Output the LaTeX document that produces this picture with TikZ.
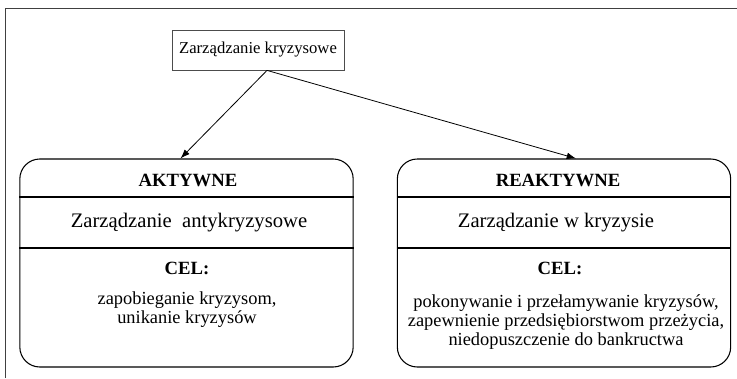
\documentclass[tikz,border=0pt]{standalone}
\usepackage{fontspec}
\setmainfont{Liberation Serif}
\usetikzlibrary{arrows.meta,calc}
\begin{document}
\begin{tikzpicture}[x=0.75pt,y=-0.75pt,
  panel/.style={draw, line width=0.8pt, rounded corners=15pt, minimum width=250pt, minimum height=156pt, inner sep=0pt},
  divider/.style={line width=0.8pt},
  head/.style={font=\fontsize{14}{16}\selectfont\bfseries},
  sub/.style={font=\fontsize{15.5}{18}\selectfont},
  body/.style={font=\fontsize{13.8}{14.3}\selectfont, align=center},
  conn/.style={line width=0.6pt, -{Latex[length=7pt,width=5pt]}},
  frame/.style={line width=0.6pt, draw=black!75}]
\useasboundingbox (0,0) rectangle (737,378);
\draw[frame] (5,378) -- (5,8) -- (737,8);
\node[draw=black!70, line width=0.6pt, minimum width=129pt, minimum height=30pt, inner sep=0pt,
      font=\fontsize{12.5}{14}\selectfont] (top) at (258,50) {Zarządzanie kryzysowe};
\node[panel] (L) at (186.5,263) {};
\node[panel] (R) at (564,263) {};
\coordinate (apex) at ($(top.south)+(9,0)$);
\draw[conn] (apex) -- ($(L.north)+(-6,0)$);
\draw[conn] (apex) -- ($(R.north)+(12,0)$);
\draw[divider] (L.west |- 0,197) -- (L.east |- 0,197);
\draw[divider] (L.west |- 0,248) -- (L.east |- 0,248);
\draw[divider] (R.west |- 0,197) -- (R.east |- 0,197);
\draw[divider] (R.west |- 0,248) -- (R.east |- 0,248);
\node[head] (La) at (188,180) {AKTYWNE};
\node[sub] (Lb) at (189,223) {Zarządzanie\hspace{0.5em}antykryzysowe};
\node[head] (Lc) at (187,268) {CEL:};
\node[body] (Ld) at (187,310) {zapobieganie kryzysom,\\unikanie kryzysów};
\node[head] (Ra) at (558,180) {REAKTYWNE};
\node[sub] (Rb) at (556,223) {Zarządzanie w kryzysie};
\node[head] (Rc) at (560,268) {CEL:};
\node[body] (Rd) at (566,322) {pokonywanie i przełamywanie kryzysów,\\zapewnienie przedsiębiorstwom przeżycia,\\niedopuszczenie do bankructwa};
\end{tikzpicture}
\end{document}
